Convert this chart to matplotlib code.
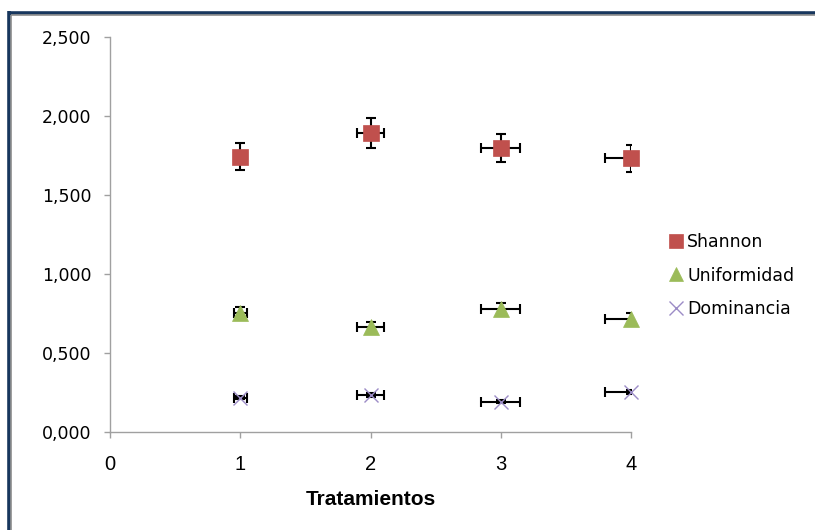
import matplotlib
matplotlib.use("Agg")
import matplotlib.pyplot as plt
from matplotlib.ticker import FuncFormatter, MultipleLocator
from matplotlib.lines import Line2D

# Data
tratamientos = [1, 2, 3, 4]
shannon = [1.745, 1.895, 1.800, 1.735]
uniformidad = [0.757, 0.665, 0.779, 0.718]
dominancia = [0.219, 0.236, 0.194, 0.257]
shannon_err = [0.087, 0.095, 0.090, 0.087]
uniformidad_err = [0.038, 0.033, 0.039, 0.036]
dominancia_err = [0.011, 0.012, 0.010, 0.013]
x_err = [0.05, 0.10, 0.15, 0.20]
series_names = ["Shannon", "Uniformidad", "Dominancia"]

W, H = 815, 530
fig = plt.figure(figsize=(W / 100, H / 100), dpi=100)
fig.patch.set_facecolor("white")

ax = fig.add_axes([110 / W, 1 - 432.3 / H, (631 - 110) / W, (432.3 - 37.5) / H])

series = [
    (shannon, shannon_err, "s", "#C0504D", 11, series_names[0]),
    (uniformidad, uniformidad_err, "^", "#9BBB59", 11, series_names[1]),
    (dominancia, dominancia_err, "x", "#9C8CC6", 10, series_names[2]),
]

for vals, yerr, mk, col, ms, name in series:
    ax.errorbar(tratamientos, vals, yerr=yerr, xerr=x_err, fmt="none",
                ecolor="black", elinewidth=1.5, capsize=3.5, capthick=1.5,
                zorder=2)
    ax.plot(tratamientos, vals, linestyle="none", marker=mk, color=col,
            markersize=ms, markeredgewidth=1.0 if mk == "x" else 0.5,
            markeredgecolor=col, label=name, clip_on=False, zorder=3)

ax.set_xlim(0, 4)
ax.set_ylim(0, 2.5)
ax.xaxis.set_major_locator(MultipleLocator(1))
ax.yaxis.set_major_locator(MultipleLocator(0.5))
ax.yaxis.set_major_formatter(FuncFormatter(lambda v, p: f"{v:.3f}".replace(".", ",")))

for s in ["top", "right"]:
    ax.spines[s].set_visible(False)
for s in ["left", "bottom"]:
    ax.spines[s].set_color("#A0A0A0")
    ax.spines[s].set_linewidth(1.0)

ax.tick_params(axis="both", direction="out", length=4.5, width=1.0, color="#A0A0A0")
ax.tick_params(axis="y", pad=9, labelsize=12.5)
ax.tick_params(axis="x", pad=11.5, labelsize=14.5)
for lab in ax.get_yticklabels():
    lab.set_family(["DejaVu Sans"])
for lab in ax.get_xticklabels():
    lab.set_family(["Liberation Sans", "DejaVu Sans"])

ax.set_xlabel("Tratamientos", fontsize=15, fontweight="bold",
              family=["Liberation Sans", "DejaVu Sans"],
              labelpad=12)

leg = ax.legend(loc="center left", bbox_to_anchor=(670 / W, 1 - 275.5 / H),
                bbox_transform=fig.transFigure, frameon=False,
                prop={"family": ["DejaVu Sans"], "size": 12.5},
                handlelength=0.7, handletextpad=0.3, labelspacing=0.88,
                borderaxespad=0, borderpad=0)
for h in leg.legend_handles:
    h.set_markersize(9.5)

# Frame lines (top and left border)
fig.add_artist(Line2D([8 / W, 1], [1 - 12.5 / H, 1 - 12.5 / H], color="#17365D", lw=2.6,
                      transform=fig.transFigure, solid_capstyle="butt"))
fig.add_artist(Line2D([11 / W, 1], [1 - 14.8 / H, 1 - 14.8 / H], color="#8C8C8C", lw=1.2,
                      transform=fig.transFigure, solid_capstyle="butt"))
fig.add_artist(Line2D([9 / W, 9 / W], [1 - 11 / H, 0], color="#17365D", lw=2.6,
                      transform=fig.transFigure, solid_capstyle="butt"))
fig.add_artist(Line2D([11.3 / W, 11.3 / W], [1 - 15 / H, 0], color="#8C8C8C", lw=1.2,
                      transform=fig.transFigure, solid_capstyle="butt"))

fig.savefig("out.png", dpi=100)
